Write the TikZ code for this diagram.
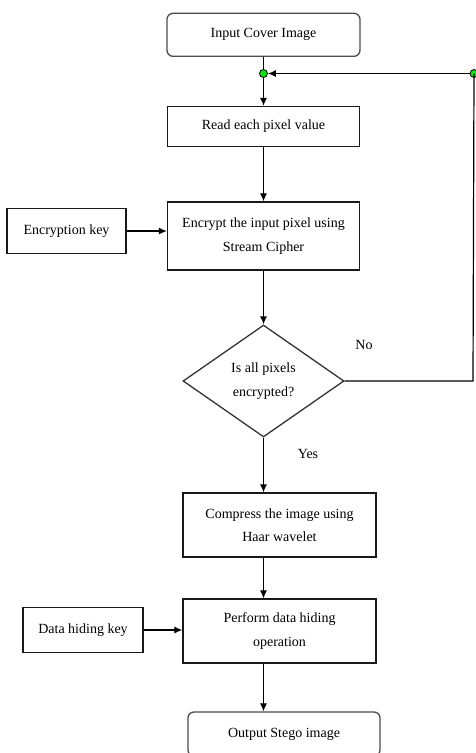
\documentclass[tikz,border=0pt]{standalone}
\usepackage{fontspec}
\setmainfont{Liberation Serif}
\usepackage{tikz}
\usetikzlibrary{arrows.meta,shapes.geometric}
\definecolor{dotgreen}{RGB}{20,225,20}

\begin{document}
\begin{tikzpicture}[x=1pt,y=-1pt,
  txt/.style={font=\fontsize{14}{23.5}\selectfont, align=center},
  box/.style={txt, draw=black!90, line width=1.3pt, rectangle, inner sep=0pt},
  term/.style={box, draw=black!70, rounded corners=6pt},
  dec/.style={txt, draw=black!80, line width=1.3pt, diamond, aspect=1.43, inner sep=0pt,
    minimum width=161pt, minimum height=112pt},
  dot/.style={circle, draw=black, fill=dotgreen, line width=0.8pt, inner sep=0pt, minimum size=8pt},
  arr/.style={line width=1.2pt, -{Latex[length=8pt,width=7pt]}},
  ln/.style={line width=1.2pt}]
  \useasboundingbox (0,0) rectangle (475,753);
  % main column
  \node[term, minimum width=193pt, minimum height=43pt] (start) at (263.5,34.8) {Input Cover Image};
  \node[dot] (jn) at (263.5,73.5) {};
  \node[box, minimum width=192pt, minimum height=40pt] (read) at (263.5,126.5) {Read each pixel value};
  \node[box, minimum width=192pt, minimum height=68pt] (encrypt) at (263.5,236) {Encrypt the input pixel using\\Stream Cipher};
  \node[dec] (check) at (263.5,381) {Is all pixels\\encrypted?};
  \node[box, minimum width=193pt, minimum height=64pt] (compress) at (279.5,525) {Compress the image using\\Haar wavelet};
  \node[box, minimum width=193pt, minimum height=64pt] (hide) at (279.5,631) {Perform data hiding\\operation};
  \node[term, minimum width=192pt, minimum height=44pt] (output) at (284,734) {Output Stego image};
  % keys
  \node[box, minimum width=119pt, minimum height=44.5pt] (enckey) at (66.5,231) {Encryption key};
  \node[box, minimum width=120pt, minimum height=45.5pt] (hidekey) at (83,630) {Data hiding key};
  % loop back
  \node[dot] (jr) at (474,73.5) {};
  \coordinate (corner) at (473,381);
  % connectors
  \draw[ln] (start.south -| jn) -- (jn);
  \draw[arr] (jn) -- (read);
  \draw[arr] (read) -- (encrypt);
  \draw[arr] (encrypt) -- (check);
  \draw[arr] (check.south) -- (check.south |- compress.north);
  \draw[arr] (compress.south -| check.south) -- (hide.north -| check.south);
  \draw[arr] (hide.south -| check.south) -- (output.north -| check.south);
  \draw[arr] (enckey) -- (encrypt.west |- enckey);
  \draw[arr] (hidekey) -- (hide.west |- hidekey);
  \draw[ln] (check.east) -- (corner) -- (jr.center);
  \draw[arr] (jr) -- (jn);
  % labels
  \node[txt] (no) at (364,345) {No};
  \node[txt] (yes) at (308,454) {Yes};
\end{tikzpicture}
\end{document}
